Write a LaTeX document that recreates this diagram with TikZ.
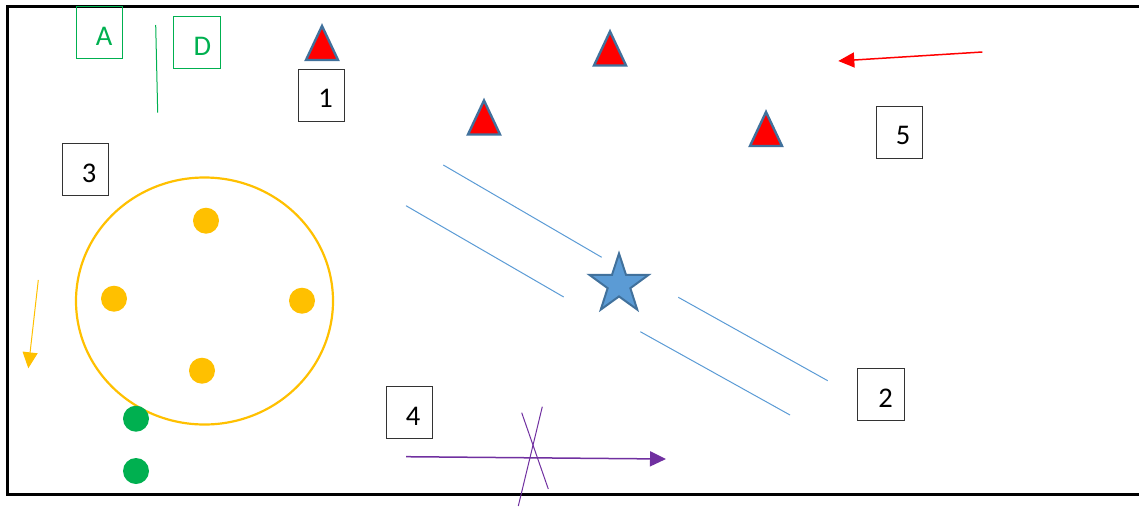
\documentclass[tikz,border=0pt]{standalone}
\usepackage{fontspec}
\setmainfont{Carlito}
\usetikzlibrary{arrows.meta,shapes.geometric}
\definecolor{mygreen}{HTML}{00B050}
\definecolor{myorange}{HTML}{FFC000}
\definecolor{myblue}{HTML}{5B9BD5}
\definecolor{darkblue}{HTML}{41719C}
\definecolor{mypurple}{HTML}{7030A0}
\begin{document}
\begin{tikzpicture}[x=1pt,y=-1pt,
  numbox/.style={draw=black!80, line width=0.9pt, minimum width=46.5pt, minimum height=52pt,
    inner sep=0pt, font=\fontsize{28.5}{30}\selectfont, text height=25pt, text depth=0pt},
  letbox/.style={numbox, draw=mygreen, text=mygreen},
  redtri/.pic={\path[fill=red, draw=darkblue, line width=2.4pt] (0,0) -- (16,34) -- (-16,34) -- cycle;},
  tipA/.style={-{Triangle[length=16pt,width=15pt]}},
  bline/.style={myblue, line width=1pt},
  pline/.style={mypurple, line width=1pt},
  odot/.style={fill=myorange},
  gdot/.style={fill=mygreen}]
\useasboundingbox (0,0) rectangle (1139,506);
% frame
\draw[line width=2.6pt] (1150,6.5) -| (7.3,494.3) -- (1150,494.3);
% green boxes and line
\node[letbox] (A) at (99.2,32.7) {\hspace*{10pt}A};
\node[letbox] (D) at (197,42.7) {\hspace*{11pt}D};
\draw[mygreen, line width=1pt] (155.7,25) -- (157.7,112.7);
% number boxes
\node[numbox] (n1) at (321.2,95) {\hspace*{9pt}1};
\node[numbox] (n2) at (881,394.7) {\hspace*{9pt}2};
\node[numbox] (n3) at (85.2,169.5) {\hspace*{8pt}3};
\node[numbox] (n4) at (409.2,412.7) {\hspace*{8pt}4};
\node[numbox] (n5) at (899.2,132.3) {\hspace*{8pt}5};
% triangles
\pic at (322,26) {redtri};
\pic at (610,31.5) {redtri};
\pic at (484,100.5) {redtri};
\pic at (766,112) {redtri};
% red arrow
\coordinate (ra1) at (982.3,52);
\coordinate (ra2) at (838.3,61);
\draw[red, line width=1.5pt, tipA] (ra1) -- (ra2);
% orange circle and dots
\draw[myorange, line width=2.2pt] (204.5,301) ellipse [x radius=128.5, y radius=123.5];
\fill[odot] (206,220.7) circle [radius=13];
\fill[odot] (114,298.7) circle [radius=13];
\fill[odot] (302,300.7) circle [radius=13];
\fill[odot] (202,370.7) circle [radius=13];
% orange arrow
\coordinate (oa1) at (38.3,280);
\coordinate (oa2) at (28.3,368.3);
\draw[myorange, line width=1pt, tipA] (oa1) -- (oa2);
% green dots
\fill[gdot] (136,418.7) circle [radius=13];
\fill[gdot] (136,471) circle [radius=13];
% blue lines
\draw[bline] (443.3,165) -- (601.7,257.3);
\draw[bline] (406,205.7) -- (563.7,297);
\draw[bline] (678.3,297.3) -- (827.7,380.7);
\draw[bline] (640.3,331.7) -- (790,415);
% star
\node[star, star points=5, star point ratio=2.6, minimum size=62pt, inner sep=0pt,
  fill=myblue, draw=darkblue, line width=2pt] (st) at (619,284.5) {};
% purple arrow and cross
\coordinate (pa1) at (406,456.7);
\coordinate (pa2) at (666,459);
\draw[mypurple, line width=1.5pt, tipA] (pa1) -- (pa2);
\draw[pline] (542.3,406.7) -- (518.3,506);
\draw[pline] (521.7,412.7) -- (548.3,489);
\end{tikzpicture}
\end{document}
